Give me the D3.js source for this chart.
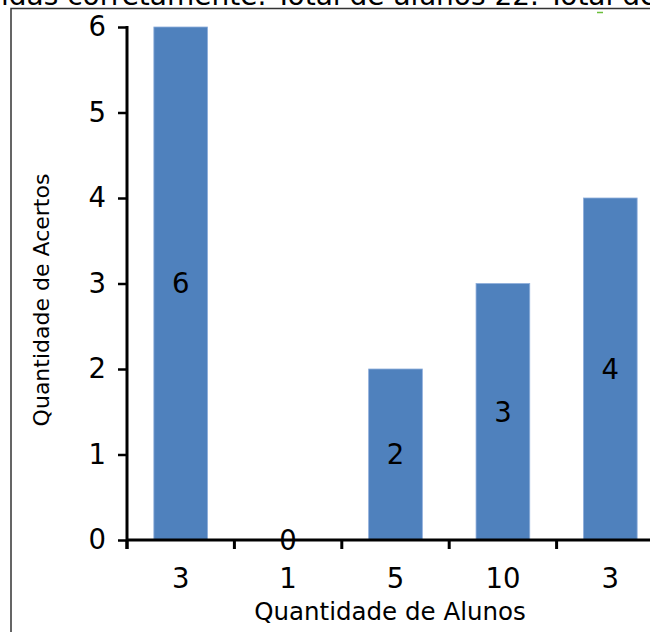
<!DOCTYPE html>
<html><head><meta charset="utf-8">
<script src="https://cdn.jsdelivr.net/npm/d3@7"></script>
<style>body{margin:0;background:#fff;overflow:hidden}svg{display:block}</style>
</head><body>
<svg id="c" width="650" height="632"></svg>
<script>
const categories = ["3", "1", "5", "10", "3"];
const values = [6, 0, 2, 3, 4];
const yTicks = [0, 1, 2, 3, 4, 5, 6];
const titleText = "Quantidade de questões respondidas corretamente. Total de alunos 22. Total de questões 6";
const titlePrefix = "Quantidade de questões respond";
const xTitle = "Quantidade de Alunos";
const yTitle = "Quantidade de Acertos";

(function () {
const svg = d3.select("#c");
const font = "DejaVu Sans, sans-serif";
const barColor = "#4f81bd";
const numSize = 27.5;

// frame
svg.append("rect").attr("x", 11).attr("y", 8.5).attr("width", 700).attr("height", 700)
  .attr("fill", "none").attr("stroke", "#333").attr("stroke-width", 1.5);

// cropped title at top
const tmp = svg.append("text").attr("font-family", font).attr("font-size", 28).text(titlePrefix);
const pw = tmp.node().getComputedTextLength(); tmp.remove();
svg.append("text").attr("x", -pw + 1).attr("y", 5).attr("font-family", font).attr("font-size", 28)
  .attr("fill", "#000").text(titleText);

// small green mark
svg.append("line").attr("x1", 597).attr("x2", 603).attr("y1", 12.5).attr("y2", 12.5)
  .attr("stroke", "#6abf3a").attr("stroke-width", 1.5);

const pLeft = 127, pRight = 664, pTop = 27, pBottom = 540;
const x = d3.scaleBand().domain(d3.range(categories.length)).range([pLeft, pRight]).paddingInner(0).paddingOuter(0);
const y = d3.scaleLinear().domain([0, 6]).range([pBottom, pTop]);
const bw = x.bandwidth() * 0.5;

// bars
svg.append("g").selectAll("rect").data(values).join("rect")
  .attr("x", (d, i) => x(i) + (x.bandwidth() - bw) / 2)
  .attr("y", d => y(d)).attr("width", bw).attr("height", d => y(0) - y(d))
  .attr("fill", barColor).attr("stroke", "#8eaedb").attr("stroke-width", 0.8);

// y axis
const ya = svg.append("g").attr("transform", `translate(${pLeft},0)`)
  .call(d3.axisLeft(y).tickValues(yTicks).tickFormat(d3.format("d")).tickSize(9).tickPadding(12));
ya.select(".domain").remove();
ya.selectAll("line").attr("stroke", "#000").attr("stroke-width", 2.5);
ya.selectAll("text").attr("font-family", font).attr("font-size", numSize).attr("fill", "#000");
svg.append("line").attr("x1", pLeft).attr("x2", pLeft).attr("y1", y(6) - 1).attr("y2", pBottom + 9)
  .attr("stroke", "#000").attr("stroke-width", 3);

// x axis
svg.append("line").attr("x1", pLeft).attr("x2", 660).attr("y1", pBottom).attr("y2", pBottom)
  .attr("stroke", "#000").attr("stroke-width", 3);
svg.append("g").selectAll("line").data(d3.range(categories.length)).join("line")
  .attr("x1", i => x(i)).attr("x2", i => x(i)).attr("y1", pBottom).attr("y2", pBottom + 9)
  .attr("stroke", "#000").attr("stroke-width", 3);
svg.append("g").selectAll("text").data(categories).join("text")
  .attr("x", (d, i) => x(i) + x.bandwidth() / 2).attr("y", 588)
  .attr("text-anchor", "middle").attr("font-family", font).attr("font-size", numSize).attr("fill", "#000")
  .text(d => d);

// value labels
svg.append("g").selectAll("text").data(values).join("text")
  .attr("x", (d, i) => x(i) + x.bandwidth() / 2).attr("y", d => y(d / 2))
  .attr("dy", "0.36em").attr("text-anchor", "middle").attr("font-family", font).attr("font-size", numSize)
  .attr("fill", "#000").text(d => d);

// axis titles
svg.append("text").attr("x", 390).attr("y", 620).attr("text-anchor", "middle")
  .attr("font-family", font).attr("font-size", 24.5).attr("fill", "#000").text(xTitle);
svg.append("text").attr("transform", `translate(49,${300}) rotate(-90)`).attr("text-anchor", "middle")
  .attr("font-family", font).attr("font-size", 22).attr("fill", "#000").text(yTitle);
})();
</script>
</body></html>
